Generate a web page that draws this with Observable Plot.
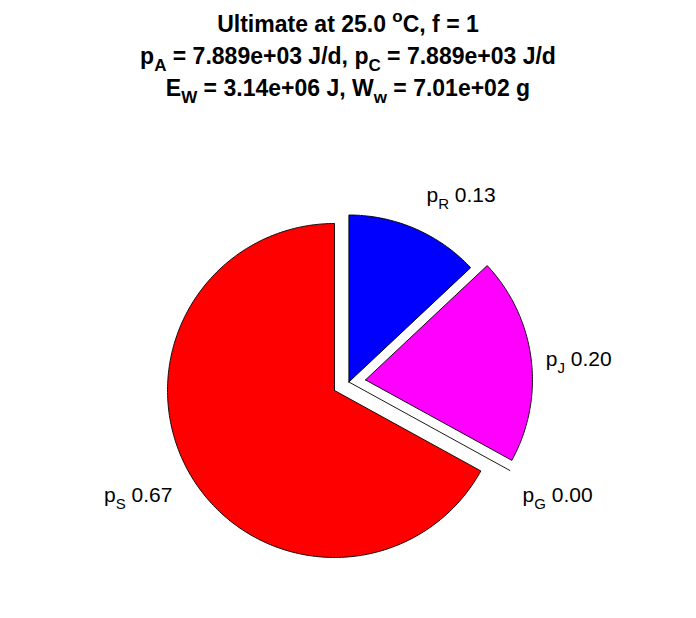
<!DOCTYPE html>
<html><head><meta charset="utf-8">
<script src="https://cdn.jsdelivr.net/npm/d3@7"></script>
<script src="https://cdn.jsdelivr.net/npm/@observablehq/plot@0.6"></script>
<style>body{margin:0;background:#fff}</style>
</head><body><div id="chart"></div>
<script>
// ---- data ----
const names = ["R", "J", "G", "S"];
const values = [0.13, 0.20, 0.00, 0.67];
const valueLabels = ["0.13", "0.20", "0.00", "0.67"];
const explode = [0, 1, 1, 1];
const colors = ["#0000ff", "#ff00ff", "#ffff00", "#ff0000"];
const titleLine1 = [["Ultimate at 25.0 ", ""], ["o", "sup"], ["C, f = 1", ""]];
const titleLine2 = [["p", ""], ["A", "sub"], [" = 7.889e+03 J/d, p", ""], ["C", "sub"], [" = 7.889e+03 J/d", ""]];
const titleLine3 = [["E", ""], ["W", "sub"], [" = 3.14e+06 J, W", ""], ["w", "sub"], [" = 7.01e+02 g", ""]];

// ---- layout ----
const W = 696, H = 618;
const cx = 348.4, cy = 381.5, R = 167;
const FONT = "'Liberation Sans', Arial, Helvetica, sans-serif";

const dir = t => [Math.sin(2 * Math.PI * t), Math.cos(2 * Math.PI * t)];
let cum = 0;
const slices = values.map((v, i) => {
  const a0 = cum, a1 = cum + v; cum = a1;
  const mid = (a0 + a1) / 2;
  const dm = dir(mid);
  const off = explode[i] ? [0.1 * dm[0], 0.1 * dm[1]] : [0, 0];
  let pts;
  if (v > 0) {
    const n = Math.max(2, Math.ceil(v * 360));
    pts = [off];
    for (let k = 0; k <= n; k++) {
      const d = dir(a0 + (a1 - a0) * k / n);
      pts.push([off[0] + d[0], off[1] + d[1]]);
    }
    pts.push(off);
  } else {
    pts = [[0, 0], [off[0] + dm[0], off[1] + dm[1]]];
  }
  return {i, mid, pts: pts.map(p => ({x: p[0], y: p[1]})), label: {x: 1.2 * dm[0], y: 1.2 * dm[1]}};
});

const marks = [];
slices.forEach(s => {
  marks.push(Plot.line(s.pts, {x: "x", y: "y", fill: values[s.i] > 0 ? colors[s.i] : "none", stroke: "#000", strokeWidth: 0.9, curve: "linear"}));
});
slices.forEach(s => {
  const below = s.label.y < 0;
  marks.push(Plot.text([s.label], {
    x: "x", y: "y", text: () => "p" + names[s.i] + " " + valueLabels[s.i],
    textAnchor: s.label.x >= 0 ? "start" : "end",
    lineAnchor: below ? "top" : "middle",
    dx: s.label.x >= 0 ? -2 : -4,
    dy: values[s.i] === 0 ? 9 : (below ? 3 : (s.label.y > 0.5 ? -3 : 2)),
    fontSize: 21, fill: "#000", className: "pielabel"
  }));
});

const chart = Plot.plot({
  width: W, height: H, margin: 0,
  style: {fontFamily: FONT, background: "#fff"},
  x: {domain: [-cx / R, (W - cx) / R], axis: null},
  y: {domain: [-(H - cy) / R, cy / R], axis: null},
  marks
});
document.getElementById("chart").appendChild(chart);

// rich text for pie labels (subscripts)
d3.select(chart).selectAll("g.pielabel text").each(function(d, j) {
  const el = d3.select(this);
  const i = j;
  el.text(null);
  el.append("tspan").text("p");
  el.append("tspan").attr("dy", 7).attr("font-size", 15).text(names[i]);
  el.append("tspan").attr("dy", -7).text(" " + valueLabels[i]);
});

// title
const svg = d3.select(chart);
const tg = svg.append("g").attr("font-family", FONT).attr("font-weight", "bold").attr("font-size", 23).attr("fill", "#000");
[titleLine1, titleLine2, titleLine3].forEach((line, li) => {
  const t = tg.append("text").attr("x", W / 2).attr("y", 32 + li * 32).attr("text-anchor", "middle");
  line.forEach(([txt, kind], k) => {
    const sp = t.append("tspan").text(txt);
    if (kind === "sub") sp.attr("dy", 7).attr("font-size", 17);
    else if (kind === "sup") sp.attr("dy", -10).attr("font-size", 17);
    else if (k > 0 && line[k - 1][1] === "sub") sp.attr("dy", -7);
    else if (k > 0 && line[k - 1][1] === "sup") sp.attr("dy", 10);
  });
});
</script>
</body></html>
